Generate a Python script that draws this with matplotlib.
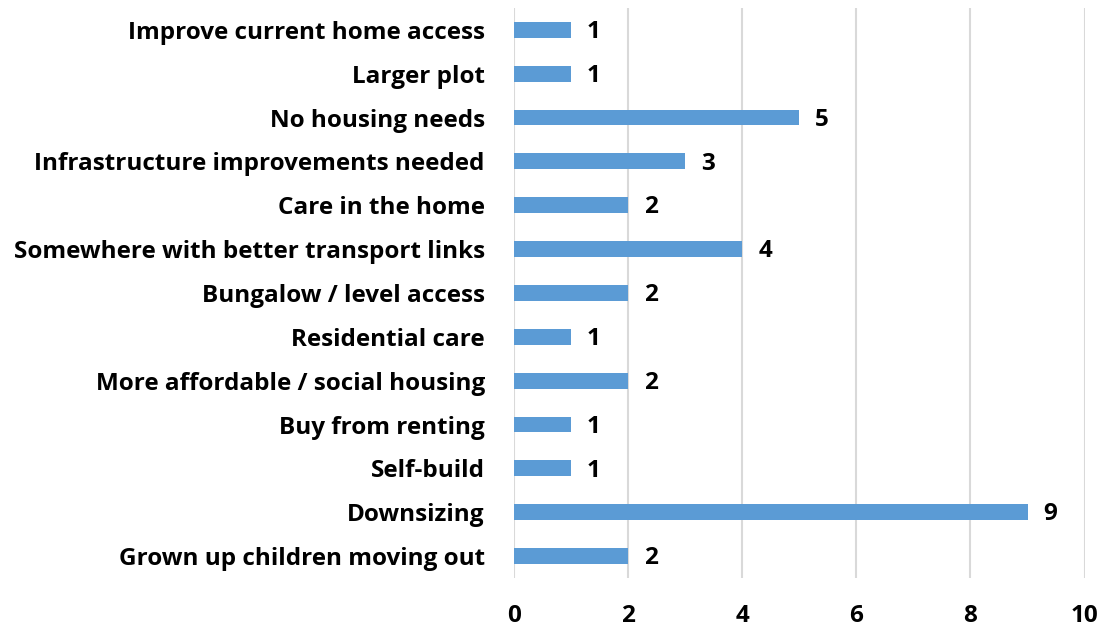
import matplotlib.pyplot as plt

# Housing needs responses (top to bottom as listed)
categories = [
    "Improve current home access",
    "Larger plot",
    "No housing needs",
    "Infrastructure improvements needed",
    "Care in the home",
    "Somewhere with better transport links",
    "Bungalow / level access",
    "Residential care",
    "More affordable / social housing",
    "Buy from renting",
    "Self-build",
    "Downsizing",
    "Grown up children moving out",
]
counts = [1, 1, 5, 3, 2, 4, 2, 1, 2, 1, 1, 9, 2]
xticks = [0, 2, 4, 6, 8, 10]

plt.rcParams['font.family'] = ['Open Sans', 'DejaVu Sans']
plt.rcParams['font.weight'] = 'bold'
fs = 17.5

fig = plt.figure(figsize=(11.09, 6.30), dpi=100)
ax = fig.add_axes([0.4635, 0.0825, 0.5145, 0.905])

ypos = list(range(len(categories)))[::-1]
ax.barh(ypos, counts, height=0.36, color='#5B9BD5', zorder=3)

for y, v in zip(ypos, counts):
    ax.text(v + 0.28, y - 0.05, str(v), va='center', ha='left',
            fontsize=fs, fontweight='bold', color='black')

ax.set_xlim(0, 10)
ax.set_ylim(-0.5, len(categories) - 0.5)
ax.set_xticks(xticks)
ax.set_xticklabels([str(t) for t in xticks], fontsize=fs, fontweight='bold')
ax.set_yticks(ypos)
ax.set_yticklabels(categories, fontsize=fs, fontweight='bold')
ax.tick_params(axis='both', length=0)
ax.tick_params(axis='x', pad=19)
ax.tick_params(axis='y', pad=21)

ax.grid(axis='x', color='#D9D9D9', linewidth=1.5, zorder=0)
for s in ax.spines.values():
    s.set_visible(False)

fig.savefig('out.png', dpi=100)
